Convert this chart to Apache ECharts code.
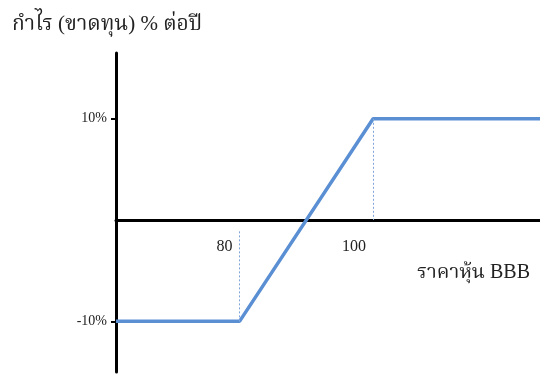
<!DOCTYPE html>
<html>
<head>
    <meta charset="UTF-8">
    <title>payoff</title>
    <style type="text/css">
        body { margin: 0; background: #fff; }
        #chart { width: 540px; height: 376px; }
    </style>
    <script type="text/javascript" src="https://cdn.jsdelivr.net/npm/echarts@6/dist/echarts.min.js"></script>
</head>
<body>
<div id="chart"></div>
<script type="text/javascript">
    // ราคาหุ้น BBB กับ กำไร/ขาดทุน (%)
    var prices = [61.5, 80, 100, 125];
    var profits = [-10, -10, 10, 10];
    var xTicks = [80, 100];
    var yTicks = [-10, 10];

    var serif = '"Liberation Serif", "Noto Serif Thai", "Noto Sans Thai", serif';
    var chart = echarts.init(document.getElementById('chart'));

    var option = {
        animation: false,
        title: [
            {
                text: 'กำไร (ขาดทุน) % ต่อปี',
                left: 7, top: 9,
                textStyle: {fontFamily: serif, fontSize: 21, fontWeight: 'normal', color: '#222'}
            },
            {
                text: 'ราคาหุ้น BBB',
                left: 412, top: 258,
                textStyle: {fontFamily: serif, fontSize: 20, fontWeight: 'normal', color: '#222'}
            }
        ],
        // second grid only carries the x axis, its bottom edge sits on y = 0
        grid: [
            {left: 116, right: 0, top: 53, bottom: 4, outerBoundsMode: 'none'},
            {left: 116, right: 0, top: 53, bottom: 156, outerBoundsMode: 'none'}
        ],
        xAxis: [
            {
                type: 'value', gridIndex: 0,
                min: 61.5, max: 125,
                show: false
            },
            {
                type: 'value', gridIndex: 1,
                min: 61.5, max: 125,
                splitLine: {show: false},
                axisLine: {onZero: false, lineStyle: {color: '#000', width: 3}},
                axisTick: {show: false},
                axisLabel: {
                    customValues: xTicks,
                    align: 'right',
                    margin: 19,
                    padding: [0, 7, 0, 0],
                    fontFamily: serif, fontSize: 16, color: '#222'
                }
            }
        ],
        yAxis: [
            {
                type: 'value', gridIndex: 0,
                min: -15, max: 16.5,
                splitLine: {show: false},
                axisLine: {onZero: false, lineStyle: {color: '#000', width: 3}},
                axisTick: {customValues: yTicks, length: 5, lineStyle: {color: '#000', width: 2}},
                axisLabel: {
                    customValues: yTicks,
                    formatter: function (v) { return v + '%'; },
                    margin: 9,
                    fontFamily: serif, fontSize: 14, color: '#222'
                }
            },
            {
                type: 'value', gridIndex: 1,
                min: 0, max: 16.5,
                show: false
            }
        ],
        series: [{
            type: 'line',
            xAxisIndex: 0, yAxisIndex: 0,
            data: prices.map(function (p, i) { return [p, profits[i]]; }),
            symbol: 'none',
            z: 3,
            lineStyle: {color: '#5b8fd3', width: 3.5},
            markLine: {
                silent: true,
                symbol: 'none',
                label: {show: false},
                lineStyle: {color: '#7fa6dc', type: [2, 2], width: 1},
                data: [
                    [{coord: [80, -10]}, {coord: [80, -1]}],
                    [{coord: [100, 10]}, {coord: [100, 0]}]
                ]
            }
        }]
    };
    chart.setOption(option);
</script>
</body>
</html>
